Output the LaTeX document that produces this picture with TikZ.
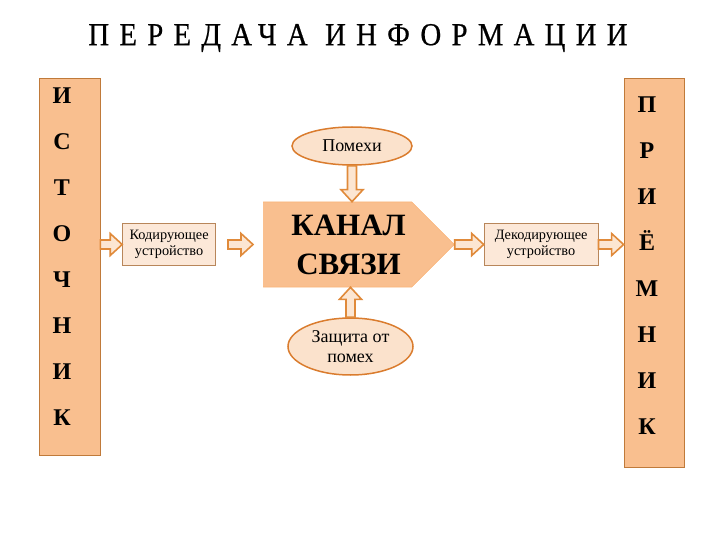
\documentclass[tikz,border=0pt]{standalone}
\usepackage{fontspec}
\setmainfont{Liberation Serif}
\newfontfamily\titlefont[FakeStretch=0.9,LetterSpace=32,FakeBold=0.6]{Liberation Serif}
\usetikzlibrary{calc,positioning,shapes.geometric,shapes.symbols}
\definecolor{peach}{HTML}{F9BF8F}
\definecolor{peachline}{HTML}{C07A3A}
\definecolor{paleorange}{HTML}{FCE8D8}
\definecolor{boxline}{HTML}{B8865A}
\definecolor{ovalfill}{HTML}{FBE2CC}
\definecolor{ovalline}{HTML}{DA7C2E}
\definecolor{arrowline}{HTML}{E08A3A}
\definecolor{arrowfill}{HTML}{FCE6D2}
\tikzset{gap start/.initial=0pt, gap end/.initial=0pt}

\begin{document}
\begin{tikzpicture}[
  x=1pt, y=-1pt,
  sidebox/.style={
    draw=peachline,
    fill=peach,
    line width=0.8pt,
    minimum width=61pt,
    inner sep=0pt
  },
  letters/.style={font=\bfseries\fontsize{24}{46}\selectfont,align=center,inner sep=0pt},
  devbox/.style={
    draw=boxline,
    fill=paleorange,
    line width=0.8pt,
    minimum height=42pt,
    align=center,
    inner sep=2pt,
    font=\fontsize{14.3}{15.5}\selectfont
  },
  oval/.style={
    ellipse,
    draw=ovalline,
    fill=ovalfill,
    line width=1.5pt,
    align=center,
    inner sep=0pt,
    font=\fontsize{18}{19.5}\selectfont
  },
  channel/.style={
    signal,
    signal to=east,
    signal pointer angle=90,
    draw=peach!85!orange,
    fill=peach,
    line width=0.6pt,
    minimum width=191pt,
    minimum height=85pt,
    align=center,
    font=\bfseries\fontsize{31}{39}\selectfont
  },
  blockarrow/.style={
    draw=arrowline,
    fill=arrowfill,
    line width=1.6pt,
    line join=miter,
    to path={
      ($(\tikztostart)!\pgfkeysvalueof{/tikz/gap start}!(\tikztotarget)$) coordinate (bs)
      ($(\tikztotarget)!\pgfkeysvalueof{/tikz/gap end}!(\tikztostart)$) coordinate (bt)
      ($(bs)!4.5pt!90:(bt)$)
      -- ($(bt)!12pt!(bs)!4.5pt!-90:(bs)$)
      -- ($(bt)!12pt!(bs)!11pt!-90:(bs)$)
      -- (bt)
      -- ($(bt)!12pt!(bs)!11pt!90:(bs)$)
      -- ($(bt)!12pt!(bs)!4.5pt!90:(bs)$)
      -- ($(bs)!4.5pt!-90:(bt)$)
      -- cycle}
  }
]
  \useasboundingbox (0,0) rectangle (720,540);
  \node[font=\titlefont\fontsize{32}{36}\selectfont] (title) at (358,38) {ПЕРЕДАЧА ИНФОРМАЦИИ};

  % source and receiver
  \node[sidebox,minimum height=377pt] (source) at (69.5,266.5) {};
  \node[letters] (sourcetext) at (62,257) {И\\С\\Т\\О\\Ч\\Н\\И\\К};
  \node[sidebox,minimum height=389pt,minimum width=60pt] (receiver) at (654,272.5) {};
  \node[letters] (receivertext) at (647,266) {П\\Р\\И\\Ё\\М\\Н\\И\\К};

  % channel in the middle
  \node[channel,anchor=west] (channel) at (263,244.5) {\hspace*{22pt}КАНАЛ\\\hspace*{22pt}СВЯЗИ};
  \node[devbox,minimum width=93pt,left=47pt of channel] (coder) {Кодирующее\\устройство};
  \node[devbox,minimum width=114pt,right=29pt of channel] (decoder) {Декодирующее\\устройство};
  \node[oval,minimum width=120pt,minimum height=38pt] (noise) at (352,146) {Помехи};
  \node[oval,minimum width=125pt,minimum height=57pt] (protect) at (350.5,346.5) {Защита от\\помех};

  \draw[blockarrow] (source.east |- coder.west) to (coder.west);
  \draw[blockarrow,gap start=12pt,gap end=10pt] (coder.east) to (channel.west);
  \draw[blockarrow] (channel.east) to (decoder.west);
  \draw[blockarrow] (decoder.east) to (receiver.west |- decoder.east);
  \draw[blockarrow] (noise.south) to (noise.south |- channel.north);
  \draw[blockarrow] (protect.north) to (protect.north |- channel.south);
\end{tikzpicture}
\end{document}
